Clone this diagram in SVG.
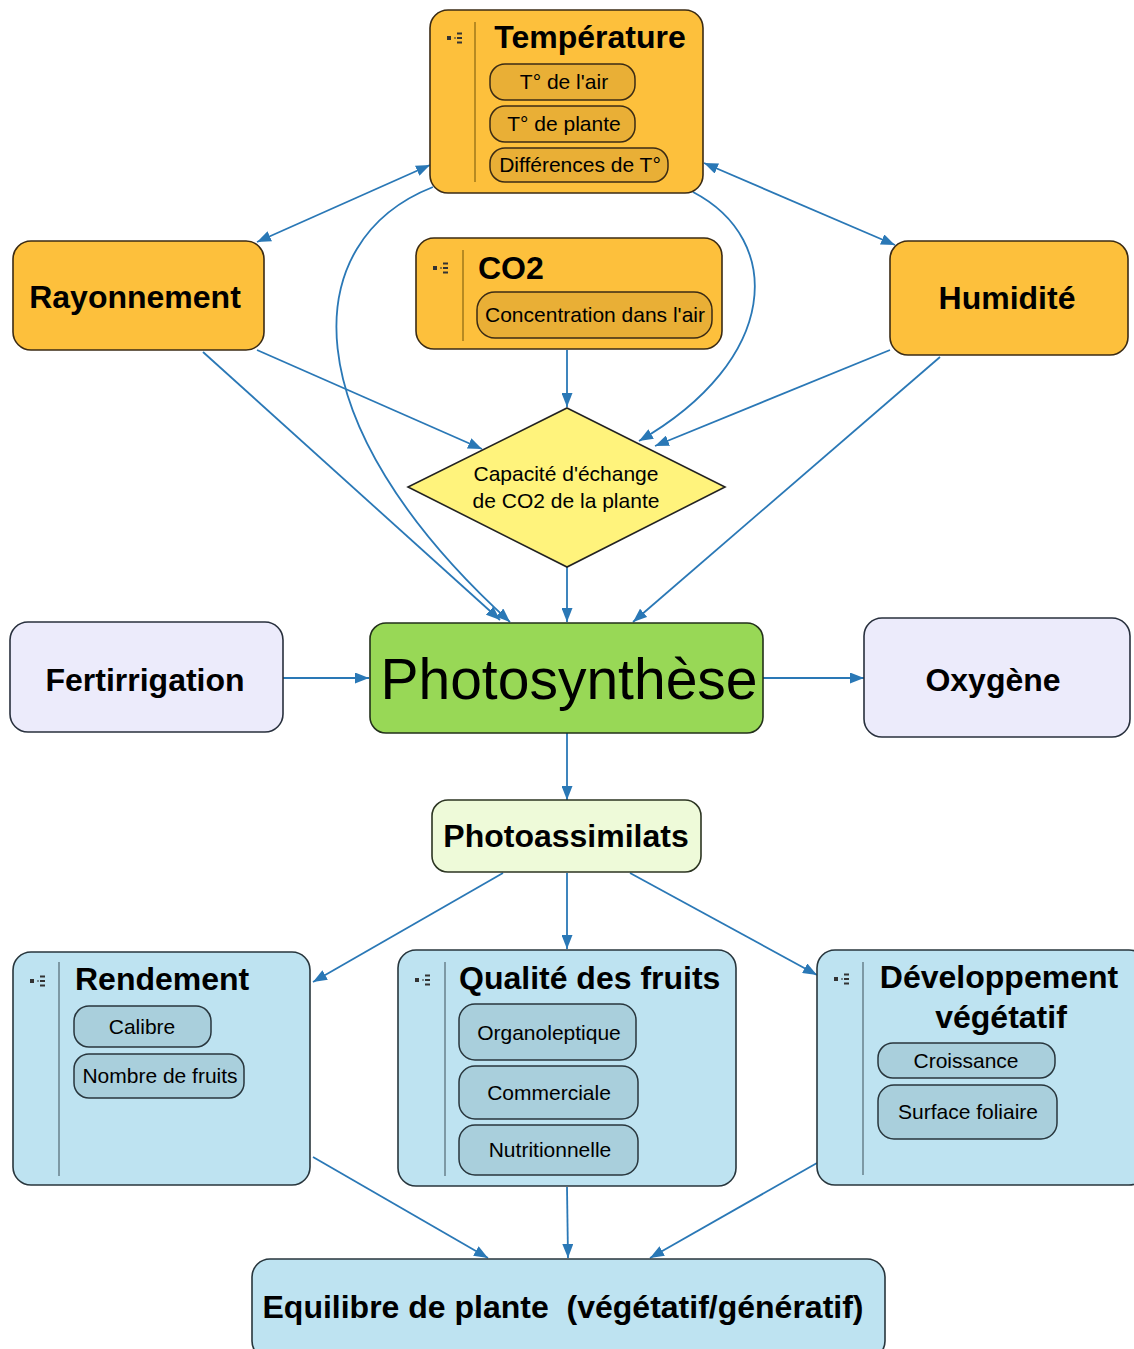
<svg xmlns="http://www.w3.org/2000/svg" width="1134" height="1349" viewBox="0 0 1134 1349">
<style>
.t{font-family:"Liberation Sans",Arial,sans-serif;fill:#000}
.title{font-size:32px;font-weight:bold}
.sub{font-size:21px}
.org{fill:#FDC03C;stroke:#3B2B14;stroke-width:1.6}
.orgp{fill:#E9AF36;stroke:#3B2B14;stroke-width:1.5}
.blu{fill:#BEE3F1;stroke:#28363D;stroke-width:1.6}
.blup{fill:#A9CFDC;stroke:#28363D;stroke-width:1.5}
.lav{fill:#ECEBFB;stroke:#28303D;stroke-width:1.6}
.divo{stroke:#B78A22;stroke-width:2}
.divb{stroke:#7D99A5;stroke-width:2}
.ic{fill:#333}
.icl{stroke:#333;stroke-width:2}
.c{fill:none;stroke:#2A78B6;stroke-width:1.8}
</style>
<defs>
<marker id="a" viewBox="0 0 14 11" refX="14" refY="5.5" markerWidth="14" markerHeight="11" markerUnits="userSpaceOnUse" orient="auto-start-reverse">
<path d="M0,0 L14,5.5 L0,11 z" fill="#2A78B6"/>
</marker>
<g id="icon">
<rect x="0" y="-2" width="4" height="4" class="ic"/>
<line x1="7" y1="0" x2="9" y2="0" stroke="#333" stroke-width="1"/>
<line x1="10" y1="-4.5" x2="15" y2="-4.5" class="icl"/>
<line x1="10" y1="0" x2="15" y2="0" class="icl"/>
<line x1="10" y1="4.5" x2="15" y2="4.5" class="icl"/>
</g>
</defs>
<rect width="1134" height="1349" fill="#fff"/>

<g id="connectors">
<line class="c" x1="430" y1="165" x2="257" y2="242" marker-start="url(#a)" marker-end="url(#a)"/>
<line class="c" x1="704" y1="163" x2="895" y2="245" marker-start="url(#a)" marker-end="url(#a)"/>
<path class="c" d="M433,187 C298,240 288,420 510,622" marker-end="url(#a)"/>
<path class="c" d="M693,192 C785,240 780,360 639,441" marker-end="url(#a)"/>
<line class="c" x1="257" y1="350" x2="482" y2="449" marker-end="url(#a)"/>
<line class="c" x1="203" y1="352" x2="500" y2="620" marker-end="url(#a)"/>
<line class="c" x1="890" y1="350" x2="655" y2="446" marker-end="url(#a)"/>
<line class="c" x1="940" y1="357" x2="633" y2="622" marker-end="url(#a)"/>
<line class="c" x1="567" y1="350" x2="567" y2="407" marker-end="url(#a)"/>
<line class="c" x1="567" y1="567" x2="567" y2="622" marker-end="url(#a)"/>
<line class="c" x1="283" y1="678" x2="369" y2="678" marker-end="url(#a)"/>
<line class="c" x1="763" y1="678" x2="864" y2="678" marker-end="url(#a)"/>
<line class="c" x1="567" y1="733" x2="567" y2="800" marker-end="url(#a)"/>
<line class="c" x1="503" y1="873" x2="313" y2="982" marker-end="url(#a)"/>
<line class="c" x1="567" y1="873" x2="567" y2="949" marker-end="url(#a)"/>
<line class="c" x1="630" y1="873" x2="817" y2="975" marker-end="url(#a)"/>
<line class="c" x1="313" y1="1157" x2="488" y2="1258" marker-end="url(#a)"/>
<line class="c" x1="567" y1="1187" x2="568" y2="1258" marker-end="url(#a)"/>
<line class="c" x1="817" y1="1163" x2="650" y2="1258" marker-end="url(#a)"/>
</g>

<g id="temperature">
<rect class="org" x="430" y="10" width="273" height="183" rx="18"/>
<line class="divo" x1="475" y1="22" x2="475" y2="182"/>
<use href="#icon" x="447" y="38"/>
<text class="t title" x="590" y="48" text-anchor="middle">Température</text>
<rect class="orgp" x="490" y="64" width="145" height="36" rx="15"/>
<text class="t sub" x="564" y="89" text-anchor="middle">T° de l'air</text>
<rect class="orgp" x="490" y="106" width="145" height="36" rx="15"/>
<text class="t sub" x="564" y="131" text-anchor="middle">T° de plante</text>
<rect class="orgp" x="490" y="148" width="178" height="34" rx="15"/>
<text class="t sub" x="580" y="172" text-anchor="middle">Différences de T°</text>
</g>

<g id="co2">
<rect class="org" x="416" y="238" width="306" height="111" rx="18"/>
<line class="divo" x1="463" y1="250" x2="463" y2="341"/>
<use href="#icon" x="433" y="268"/>
<text class="t title" x="478" y="279">CO2</text>
<rect class="orgp" x="477" y="292" width="235" height="46" rx="18"/>
<text class="t sub" x="485" y="322">Concentration dans l'air</text>
</g>

<g id="rayonnement">
<rect class="org" x="13" y="241" width="251" height="109" rx="18"/>
<text class="t title" x="135" y="308" text-anchor="middle">Rayonnement</text>
</g>

<g id="humidite">
<rect class="org" x="890" y="241" width="238" height="114" rx="18"/>
<text class="t title" x="1007" y="309" text-anchor="middle">Humidité</text>
</g>

<g id="capacite">
<polygon points="567,408 725,487 567,567 408,487" fill="#FFF37C" stroke="#222" stroke-width="1.6"/>
<text class="t sub" x="566" y="481" text-anchor="middle">Capacité d'échange</text>
<text class="t sub" x="566" y="508" text-anchor="middle">de CO2 de la plante</text>
</g>

<g id="fertirrigation">
<rect class="lav" x="10" y="622" width="273" height="110" rx="18"/>
<text class="t title" x="145" y="691" text-anchor="middle">Fertirrigation</text>
</g>

<g id="photosynthese">
<rect x="370" y="623" width="393" height="110" rx="16" fill="#98D856" stroke="#22301A" stroke-width="1.6"/>
<text class="t" x="569" y="699" text-anchor="middle" font-size="57">Photosynthèse</text>
</g>

<g id="oxygene">
<rect class="lav" x="864" y="618" width="266" height="119" rx="18"/>
<text class="t title" x="993" y="691" text-anchor="middle">Oxygène</text>
</g>

<g id="photoassimilats">
<rect x="432" y="800" width="269" height="72" rx="16" fill="#EEFAD9" stroke="#2C3522" stroke-width="1.6"/>
<text class="t title" x="566" y="847" text-anchor="middle">Photoassimilats</text>
</g>

<g id="rendement">
<rect class="blu" x="13" y="952" width="297" height="233" rx="18"/>
<line class="divb" x1="59" y1="962" x2="59" y2="1176"/>
<use href="#icon" x="30" y="981"/>
<text class="t title" x="75" y="990">Rendement</text>
<rect class="blup" x="74" y="1006" width="137" height="41" rx="15"/>
<text class="t sub" x="142" y="1034" text-anchor="middle">Calibre</text>
<rect class="blup" x="74" y="1054" width="170" height="44" rx="15"/>
<text class="t sub" x="160" y="1083" text-anchor="middle">Nombre de fruits</text>
</g>

<g id="qualite">
<rect class="blu" x="398" y="950" width="338" height="236" rx="18"/>
<line class="divb" x1="445" y1="962" x2="445" y2="1176"/>
<use href="#icon" x="415" y="980"/>
<text class="t title" x="459" y="989">Qualité des fruits</text>
<rect class="blup" x="459" y="1004" width="177" height="56" rx="16"/>
<text class="t sub" x="549" y="1040" text-anchor="middle">Organoleptique</text>
<rect class="blup" x="459" y="1066" width="179" height="53" rx="16"/>
<text class="t sub" x="549" y="1100" text-anchor="middle">Commerciale</text>
<rect class="blup" x="459" y="1125" width="179" height="50" rx="16"/>
<text class="t sub" x="550" y="1157" text-anchor="middle">Nutritionnelle</text>
</g>

<g id="developpement">
<rect class="blu" x="817" y="950" width="330" height="235" rx="18"/>
<line class="divb" x1="863" y1="962" x2="863" y2="1175"/>
<use href="#icon" x="834" y="979"/>
<text class="t title" x="999" y="988" text-anchor="middle">Développement</text>
<text class="t title" x="1001" y="1028" text-anchor="middle">végétatif</text>
<rect class="blup" x="878" y="1043" width="177" height="35" rx="15"/>
<text class="t sub" x="966" y="1068" text-anchor="middle">Croissance</text>
<rect class="blup" x="878" y="1085" width="179" height="54" rx="16"/>
<text class="t sub" x="968" y="1119" text-anchor="middle">Surface foliaire</text>
</g>

<g id="equilibre">
<rect class="blu" x="252" y="1259" width="633" height="100" rx="18"/>
<text class="t title" x="563" y="1318" text-anchor="middle">Equilibre de plante&#160; (végétatif/génératif)</text>
</g>
</svg>
